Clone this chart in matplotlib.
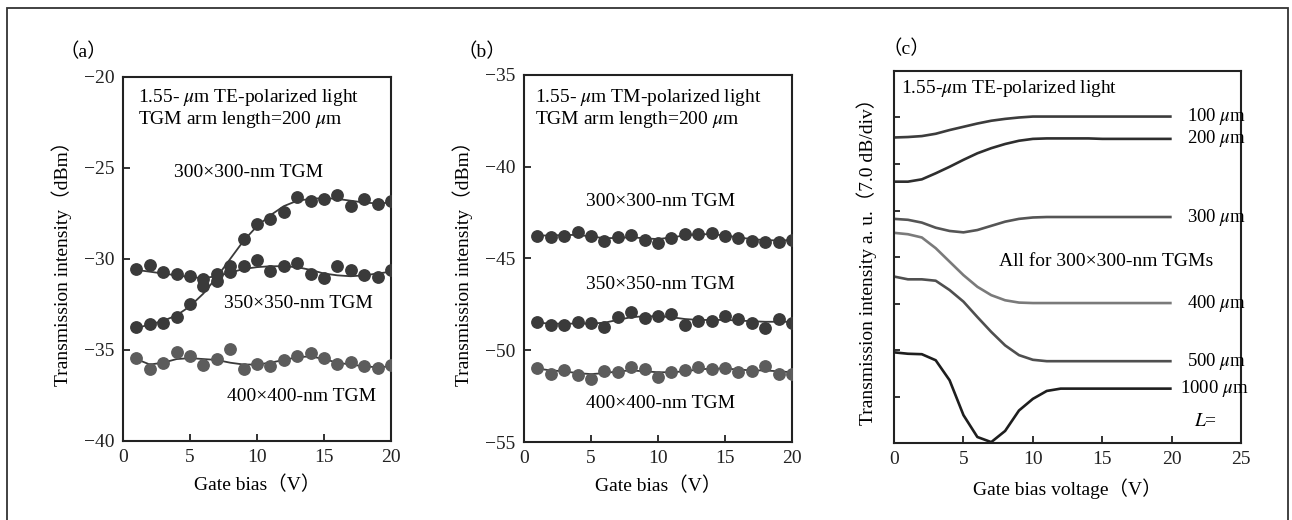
import matplotlib
matplotlib.use("Agg")
import matplotlib.pyplot as plt
from matplotlib.patches import Rectangle

plt.rcParams["font.family"] = ["Liberation Serif", "Noto Sans CJK SC"]
plt.rcParams["mathtext.fontset"] = "stix"
plt.rcParams["font.size"] = 14

# ── data: panel (a), TE, gate bias 1..20 V ─────────────────────────────
bias = list(range(1, 21))
a_300 = [-33.76, -33.6, -33.5, -33.2, -32.5, -31.5, -31.2, -30.4, -28.9, -28.1,
         -27.8, -27.4, -26.6, -26.8, -26.7, -26.5, -27.1, -26.7, -27.0, -26.8]
a_350 = [-30.55, -30.35, -30.7, -30.8, -30.95, -31.1, -30.85, -30.7, -30.4, -30.05,
         -30.65, -30.4, -30.2, -30.8, -31.05, -30.4, -30.6, -30.9, -31.0, -30.6]
a_400 = [-35.46, -36.05, -35.74, -35.1, -35.33, -35.83, -35.52, -34.95, -36.07, -35.78,
         -35.87, -35.56, -35.33, -35.15, -35.46, -35.79, -35.68, -35.87, -36.0, -35.83]
a_300_fit = [-33.8, -33.6, -33.4, -33.1, -32.6, -31.9, -31.0, -30.0, -29.0, -28.2,
             -27.6, -27.1, -26.8, -26.7, -26.65, -26.7, -26.8, -26.9, -26.95, -26.9]
a_350_fit = [-30.6, -30.7, -30.8, -30.9, -31.0, -31.05, -30.95, -30.75, -30.55, -30.45,
             -30.4, -30.4, -30.45, -30.6, -30.8, -30.9, -30.95, -30.9, -30.8, -30.7]
a_400_fit = [-35.5, -35.8, -35.7, -35.5, -35.45, -35.5, -35.55, -35.7, -35.8, -35.8,
             -35.7, -35.55, -35.4, -35.35, -35.5, -35.7, -35.8, -35.9, -35.95, -35.9]

# ── data: panel (b), TM ───────────────────────────────────────────────
b_300 = [-43.78, -43.85, -43.76, -43.54, -43.78, -44.03, -43.81, -43.72, -43.99, -44.17,
         -43.9, -43.67, -43.67, -43.61, -43.79, -43.9, -44.03, -44.08, -44.12, -43.99]
b_350 = [-48.47, -48.65, -48.65, -48.44, -48.53, -48.74, -48.2, -47.93, -48.24, -48.11,
         -48.02, -48.6, -48.42, -48.42, -48.16, -48.29, -48.53, -48.78, -48.29, -48.53]
b_400 = [-50.97, -51.28, -51.07, -51.37, -51.59, -51.14, -51.19, -50.92, -51.01, -51.46,
         -51.19, -51.1, -50.92, -51.01, -50.96, -51.19, -51.14, -50.87, -51.32, -51.28]
b_300_fit = [-43.75, -43.75, -43.72, -43.72, -43.8, -43.9, -43.88, -43.85, -43.9, -43.95,
             -43.85, -43.75, -43.68, -43.68, -43.75, -43.85, -43.95, -44.0, -44.02, -44.0]
b_350_fit = [-48.5, -48.55, -48.55, -48.55, -48.55, -48.5, -48.35, -48.2, -48.15, -48.15,
             -48.2, -48.3, -48.35, -48.35, -48.35, -48.38, -48.42, -48.45, -48.45, -48.45]
b_400_fit = [-51.0, -51.1, -51.15, -51.25, -51.3, -51.25, -51.15, -51.1, -51.15, -51.2,
             -51.2, -51.15, -51.05, -51.0, -51.0, -51.05, -51.1, -51.1, -51.15, -51.2]

# ── data: panel (c), curves in divisions (7.0 dB/div), 0..20 V ─────────
volt = list(range(0, 21))
c_100 = [6.57, 6.58, 6.6, 6.65, 6.73, 6.8, 6.87, 6.93, 6.97, 7.0, 7.02,
         7.02, 7.02, 7.02, 7.02, 7.02, 7.02, 7.02, 7.02, 7.02, 7.02]
c_200 = [5.62, 5.62, 5.67, 5.8, 5.94, 6.09, 6.23, 6.34, 6.43, 6.5, 6.54,
         6.55, 6.55, 6.55, 6.55, 6.54, 6.54, 6.54, 6.54, 6.54, 6.54]
c_300 = [4.82, 4.8, 4.74, 4.63, 4.56, 4.53, 4.58, 4.67, 4.76, 4.82, 4.85,
         4.86, 4.86, 4.86, 4.86, 4.86, 4.86, 4.86, 4.86, 4.86, 4.86]
c_400 = [4.52, 4.49, 4.42, 4.19, 3.9, 3.61, 3.36, 3.18, 3.07, 3.02, 3.01,
         3.01, 3.01, 3.01, 3.01, 3.01, 3.01, 3.01, 3.01, 3.01, 3.01]
c_500 = [3.58, 3.52, 3.52, 3.49, 3.29, 3.04, 2.71, 2.39, 2.1, 1.89, 1.79,
         1.76, 1.76, 1.76, 1.76, 1.76, 1.76, 1.76, 1.76, 1.76, 1.76]
c_1000 = [1.95, 1.92, 1.91, 1.78, 1.35, 0.6, 0.13, 0.02, 0.26, 0.7, 0.95,
          1.12, 1.17, 1.17, 1.17, 1.17, 1.17, 1.17, 1.17, 1.17, 1.17]
c_labels = ["100", "200", "300", "400", "500", "1000"]

DARK = "#3a3a3a"
MID = "#5c5c5c"
INK = "#222222"

fig = plt.figure(figsize=(12.92, 5.2), dpi=100)

# outer frame (bottom edge falls outside the picture)
fig.patches.append(Rectangle((7 / 1292, -0.05), 1281 / 1292, 1.05 - 8 / 520,
                             transform=fig.transFigure, fill=False,
                             edgecolor="#333333", linewidth=1.3))


def style_axes(ax):
    for sp in ax.spines.values():
        sp.set_linewidth(1.5)
        sp.set_color(INK)
    ax.tick_params(direction="in", length=5, width=1.3, colors=INK,
                   labelsize=14, top=False, right=False, pad=6)


def dots(ax, y, fit, color):
    ax.plot(bias, fit, color=DARK, lw=1.3, zorder=2)
    ax.plot(bias, y, "o", ms=8.2, color=color, mec=color, zorder=3)


# ── panel (a) ─────────────────────────────────────────────────────────
ax1 = fig.add_axes([0.0952, 0.152, 0.2074, 0.700])
style_axes(ax1)
dots(ax1, a_300, a_300_fit, DARK)
dots(ax1, a_350, a_350_fit, DARK)
dots(ax1, a_400, a_400_fit, MID)
ax1.set_xlim(0, 20)
ax1.set_ylim(-40, -20)
ax1.set_xticks([0, 5, 10, 15, 20])
ax1.set_yticks([-40, -35, -30, -25, -20])
ax1.set_xlabel("Gate bias（V）", fontsize=14, labelpad=7)
ax1.set_ylabel("Transmission intensity（dBm）", fontsize=14, labelpad=9)
ax1.text(1.1, -21.15, "1.55- $\\mu$m TE-polarized light", fontsize=14, va="center")
ax1.text(1.1, -22.35, "TGM arm length=200 $\\mu$m", fontsize=14, va="center")
ax1.text(9.4, -25.25, "300×300-nm TGM", fontsize=14, ha="center", va="center")
ax1.text(13.1, -32.45, "350×350-nm TGM", fontsize=14, ha="center", va="center")
ax1.text(13.3, -37.55, "400×400-nm TGM", fontsize=14, ha="center", va="center")
fig.text(83 / 1292, 1 - 52 / 520, "（a）", fontsize=14, ha="center", va="center")

# ── panel (b) ─────────────────────────────────────────────────────────
ax2 = fig.add_axes([0.4056, 0.150, 0.2074, 0.706])
style_axes(ax2)
dots(ax2, b_300, b_300_fit, DARK)
dots(ax2, b_350, b_350_fit, DARK)
dots(ax2, b_400, b_400_fit, MID)
ax2.set_xlim(0, 20)
ax2.set_ylim(-55, -35)
ax2.set_xticks([0, 5, 10, 15, 20])
ax2.set_yticks([-55, -50, -45, -40, -35])
ax2.set_xlabel("Gate bias（V）", fontsize=14, labelpad=7)
ax2.set_ylabel("Transmission intensity（dBm）", fontsize=14, labelpad=9)
ax2.text(0.8, -36.25, "1.55- $\\mu$m TM-polarized light", fontsize=14, va="center")
ax2.text(0.8, -37.45, "TGM arm length=200 $\\mu$m", fontsize=14, va="center")
ax2.text(10.2, -41.9, "300×300-nm TGM", fontsize=14, ha="center", va="center")
ax2.text(10.2, -46.4, "350×350-nm TGM", fontsize=14, ha="center", va="center")
ax2.text(10.2, -52.9, "400×400-nm TGM", fontsize=14, ha="center", va="center")
fig.text(482 / 1292, 1 - 52 / 520, "（b）", fontsize=14, ha="center", va="center")

# ── panel (c) ─────────────────────────────────────────────────────────
ax3 = fig.add_axes([0.692, 0.148, 0.2686, 0.7155])
style_axes(ax3)
ax3.tick_params(axis="y", length=4, labelleft=False)
curves = [c_100, c_200, c_300, c_400, c_500, c_1000]
colors = ["#3c3c3c", "#2e2e2e", "#555555", "#7a7a7a", "#4f4f4f", "#1e1e1e"]
for ys, col, lab in zip(curves, colors, c_labels):
    ax3.plot(volt, ys, color=col, lw=1.9, solid_capstyle="butt")
    lx = 20.6 if lab == "1000" else 21.1
    ax3.text(lx, ys[-1], lab + " $\\mu$m", fontsize=13.5, va="center", ha="left")
ax3.set_xlim(0, 25)
ax3.set_ylim(0, 8)
ax3.set_xticks([0, 5, 10, 15, 20, 25])
ax3.set_yticks([1, 2, 3, 4, 5, 6, 7])
ax3.set_xlabel("Gate bias voltage（V）", fontsize=14, labelpad=7)
ax3.set_ylabel("Transmission intensity a. u.（7.0 dB/div）", fontsize=14, labelpad=12)
ax3.text(0.5, 7.62, "1.55-$\\mu$m TE-polarized light", fontsize=14, va="center")
ax3.text(15.3, 3.9, "All for 300×300-nm TGMs", fontsize=14, ha="center", va="center")
ax3.text(21.6, 0.47, "$L$=", fontsize=14, ha="left", va="center")
fig.text(906 / 1292, 1 - 49 / 520, "（c）", fontsize=14, ha="center", va="center")

fig.savefig("out.png", dpi=100)
